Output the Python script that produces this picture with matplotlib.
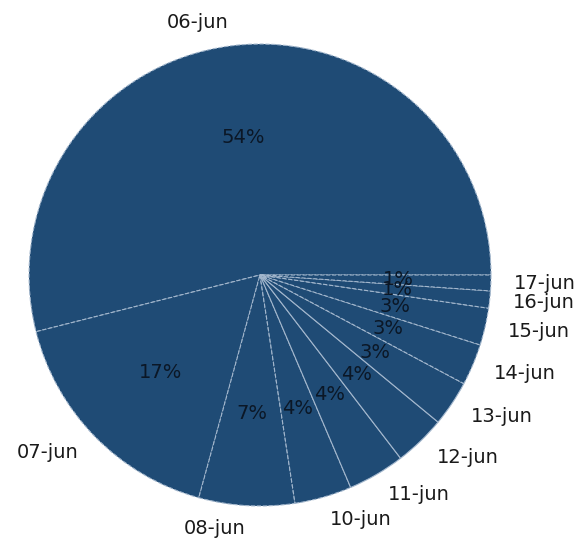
import matplotlib
matplotlib.use('Agg')
import matplotlib.pyplot as plt

# Participação diária (em %) — junho
dias = ["06-jun", "07-jun", "08-jun", "10-jun", "11-jun", "12-jun",
        "13-jun", "14-jun", "15-jun", "16-jun", "17-jun"]
valores = [54.0, 16.8, 6.7, 4.0, 4.0, 3.6, 3.2, 2.9, 2.6, 1.2, 1.1]
# bordas tracejadas ou contínuas por fatia
estilos = ["--", "--", "--", "--", "-", "-", "-", "--", "--", "--", "--"]

fig = plt.figure(figsize=(5.81, 5.39), dpi=100)
ax = fig.add_axes([0, 0, 1, 1])

wedges, textos, pcts = ax.pie(
    valores, labels=dias, autopct="%1.0f%%", startangle=0,
    colors=["#1f4b75"] * len(valores),
    wedgeprops=dict(edgecolor="#a3b7cd", linewidth=0.8),
    textprops=dict(fontsize=14, color="#1a1a1a"),
)
for w, ls in zip(wedges, estilos):
    w.set_linestyle(ls)
for p in pcts:
    p.set_color("#0b1726")

# raio do pie = 231 px, centro em (260, 275) a partir do topo
r = 231
ax.set_aspect("auto")
ax.set_xlim(-260 / r, 321 / r)
ax.set_ylim(-264 / r, 275 / r)
ax.axis("off")

plt.savefig("out.png", dpi=100)
